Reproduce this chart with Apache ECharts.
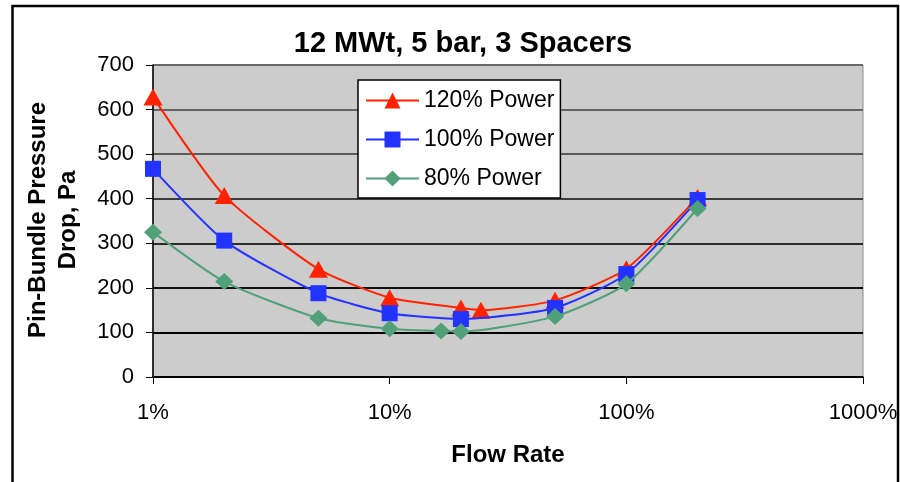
<!DOCTYPE html>
<html>
<head>
<meta charset="utf-8">
<script src="https://cdn.jsdelivr.net/npm/echarts@6/dist/echarts.min.js"></script>
<style>
html,body{margin:0;padding:0;background:#fff;}
#chart{width:900px;height:482px;}
</style>
</head>
<body>
<div id="chart"></div>
<script>
// ---- data ----
const titleText = '12 MWt, 5 bar, 3 Spacers';
const xName = 'Flow Rate';
const yName = 'Pin-Bundle Pressure\nDrop, Pa';
const seriesNames = ['120% Power', '100% Power', '80% Power'];

const flow120 = [1, 2, 5, 10, 20, 24.3, 50, 100, 200];
const dp120   = [628, 407, 242, 178, 155, 150, 172, 243, 403];

const flow100 = [1, 2, 5, 10, 20, 50, 100, 200];
const dp100   = [467, 306, 188, 143, 130, 155, 231, 397];

const flow80  = [1, 2, 5, 10, 16.5, 20, 50, 100, 200];
const dp80    = [325, 214, 132, 108, 103, 102, 136, 209, 378];

const xTicks = [1, 10, 100, 1000];
const yMin = 0, yMax = 700, yStep = 100;

function pairs(xs, ys) { return xs.map((x, i) => [x, ys[i]]); }

const FONT = "'Liberation Sans', Arial, sans-serif";
const chart = echarts.init(document.getElementById('chart'), null, {renderer: 'canvas'});

const option = {
  animation: false,
  backgroundColor: '#ffffff',
  textStyle: {fontFamily: FONT},
  title: {
    text: titleText,
    left: 458,
    textAlign: 'center',
    top: 24,
    textStyle: {fontFamily: FONT, fontSize: 29, fontWeight: 'bold', color: '#000'}
  },
  grid: {
    left: 153, right: 37, top: 65, bottom: 105,
    show: true,
    backgroundColor: '#CCCCCC',
    borderColor: '#8a8a8a',
    borderWidth: 1,
    outerBoundsMode: 'none',
    containLabel: false
  },
  legend: {
    orient: 'vertical',
    left: 358,
    top: 80,
    data: seriesNames,
    backgroundColor: '#ffffff',
    borderColor: '#000',
    borderWidth: 1.5,
    borderRadius: 0,
    padding: [9, 6, 8, 7],
    itemWidth: 53,
    itemHeight: 20,
    itemGap: 16,
    textStyle: {fontFamily: FONT, fontSize: 23, color: '#000'}
  },
  xAxis: {
    type: 'log',
    logBase: 10,
    min: xTicks[0],
    max: xTicks[xTicks.length - 1],
    name: xName,
    nameLocation: 'middle',
    nameGap: 66,
    nameTextStyle: {fontFamily: FONT, fontSize: 24, fontWeight: 'bold', color: '#000'},
    axisLine: {show: true, lineStyle: {color: '#000', width: 1.5}},
    axisTick: {show: true, inside: false, length: 7, lineStyle: {color: '#000', width: 1}},
    minorTick: {show: false},
    splitLine: {show: false},
    axisLabel: {
      margin: 25,
      fontFamily: FONT, fontSize: 22, color: '#000',
      formatter: v => v + '%'
    }
  },
  yAxis: {
    type: 'value',
    min: yMin, max: yMax, interval: yStep,
    axisLine: {show: true, lineStyle: {color: '#000', width: 1.5}},
    axisTick: {show: true, inside: false, length: 7, lineStyle: {color: '#000', width: 1}},
    splitLine: {show: true, lineStyle: {
      color: ['#000', '#000', '#111', '#2a2a2a', '#3c3c3c', '#5a5a5a', '#636363', '#6a6a6a'],
      width: 2
    }},
    axisLabel: {margin: 19, fontFamily: FONT, fontSize: 22, color: '#000'}
  },
  graphic: [
    {
      type: 'text',
      x: 53, y: 220,
      rotation: Math.PI / 2,
      style: {
        text: yName,
        fontFamily: FONT, fontSize: 24, fontWeight: 'bold',
        fill: '#000',
        align: 'center', verticalAlign: 'middle',
        lineHeight: 30
      },
      z: 10
    },
    {
      type: 'rect',
      shape: {x: 12.5, y: 6, width: 885.5, height: 520},
      style: {fill: 'none', stroke: '#000', lineWidth: 2.5},
      silent: true,
      z: 20
    }
  ],
  series: [
    {
      name: seriesNames[0],
      type: 'line',
      data: pairs(flow120, dp120),
      smooth: 0.2,
      symbol: 'triangle',
      symbolSize: [19, 17],
      itemStyle: {color: '#FF2200'},
      lineStyle: {color: '#FF2200', width: 2},
      z: 3
    },
    {
      name: seriesNames[1],
      type: 'line',
      data: pairs(flow100, dp100),
      smooth: 0.2,
      symbol: 'rect',
      symbolSize: 16,
      itemStyle: {color: '#2233FF'},
      lineStyle: {color: '#2233FF', width: 2},
      z: 4
    },
    {
      name: seriesNames[2],
      type: 'line',
      data: pairs(flow80, dp80),
      smooth: 0.2,
      symbol: 'diamond',
      symbolSize: [18, 17],
      itemStyle: {color: '#50A078'},
      lineStyle: {color: '#50A078', width: 2},
      z: 5
    }
  ]
};
chart.setOption(option);
</script>
</body>
</html>
